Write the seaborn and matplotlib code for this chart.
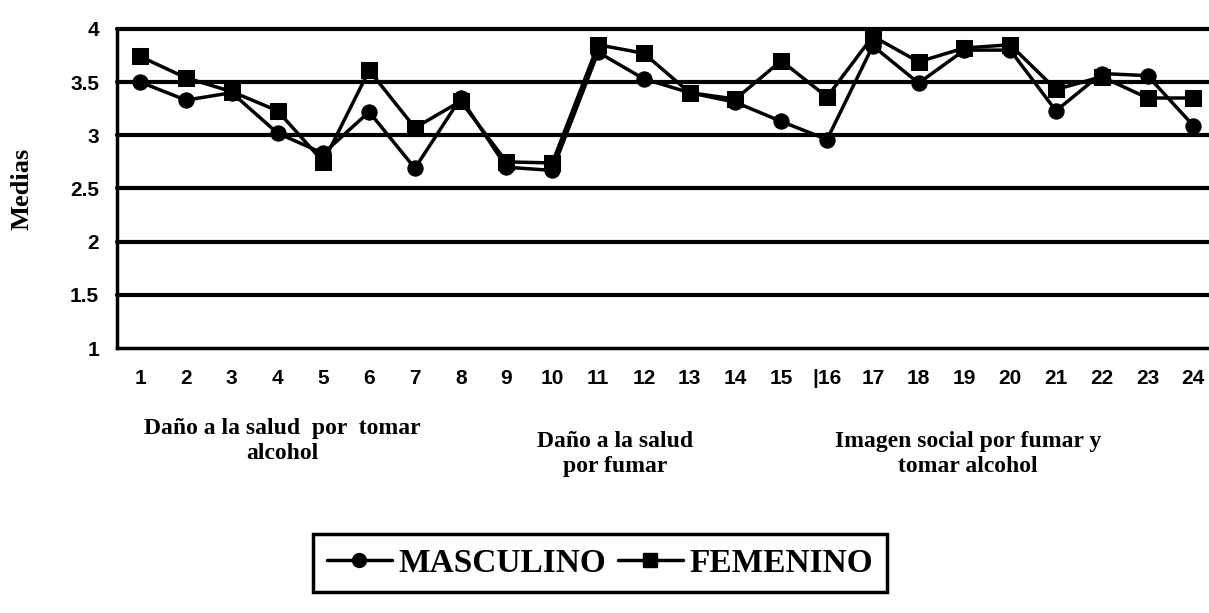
import matplotlib
matplotlib.use("Agg")
import matplotlib.pyplot as plt
import seaborn as sns
import pandas as pd
import numpy as np
from matplotlib.lines import Line2D

items = list(range(1, 25))
tick_labels = ["1", "2", "3", "4", "5", "6", "7", "8", "9", "10", "11", "12",
               "13", "14", "15", "|16", "17", "18", "19", "20", "21", "22", "23", "24"]
masculino = [3.50, 3.33, 3.40, 3.02, 2.83, 3.22, 2.69, 3.35, 2.70, 2.67, 3.78, 3.53,
             3.40, 3.31, 3.13, 2.96, 3.84, 3.49, 3.80, 3.80, 3.23, 3.58, 3.56, 3.09]
femenino = [3.74, 3.54, 3.41, 3.23, 2.75, 3.61, 3.07, 3.32, 2.75, 2.74, 3.85, 3.77,
            3.40, 3.34, 3.70, 3.36, 3.93, 3.69, 3.82, 3.85, 3.43, 3.55, 3.35, 3.35]
series_names = ["MASCULINO", "FEMENINO"]
group_labels = ["Daño a la salud  por  tomar\nalcohol",
                "Daño a la salud\npor fumar",
                "Imagen social por fumar y\ntomar alcohol"]

df = pd.DataFrame({
    "item": items * 2,
    "media": masculino + femenino,
    "sexo": [series_names[0]] * 24 + [series_names[1]] * 24,
})

sns.set_style("white")
plt.rcParams["font.family"] = ["Liberation Sans", "DejaVu Sans"]
for k in ["text.color", "axes.labelcolor", "xtick.color", "ytick.color"]:
    plt.rcParams[k] = "black"

fig = plt.figure(figsize=(12.09, 6.13), dpi=100)
ax = fig.add_axes([0.097, 0.432, 0.909, 0.521])

sns.lineplot(data=df, x="item", y="media", hue="sexo", style="sexo",
             markers={"MASCULINO": "o", "FEMENINO": "s"}, dashes=False,
             palette={"MASCULINO": "black", "FEMENINO": "black"},
             linewidth=2.5, markersize=11, markeredgecolor="black",
             ax=ax, legend=False, zorder=3)

ax.set_xlim(0.5, 24.5)
ax.set_ylim(1, 4)
ax.set_yticks([1, 1.5, 2, 2.5, 3, 3.5, 4])
ax.set_yticklabels(["1", "1.5", "2", "2.5", "3", "3.5", "4"],
                   fontsize=15, fontweight="bold")
ax.set_xticks(items)
ax.set_xticklabels(tick_labels, fontsize=15, fontweight="bold")
ax.tick_params(axis="x", which="major", length=0, pad=15)
ax.set_xticks(np.arange(1.5, 24.5, 1), minor=True)
ax.tick_params(axis="x", which="minor", length=7, width=2.5, direction="out", color="black")
ax.tick_params(axis="y", which="major", length=6, width=2.5, direction="out", color="black", pad=7)

for v in [1.5, 2, 2.5, 3, 3.5, 4]:
    ax.axhline(v, color="black", linewidth=3, zorder=1, clip_on=False)

for s in ["top", "right"]:
    ax.spines[s].set_visible(False)
for s in ["left", "bottom"]:
    ax.spines[s].set_color("black")
    ax.spines[s].set_linewidth(2.5)

serif = ["Liberation Serif", "DejaVu Serif"]
ax.set_xlabel("")
ax.set_ylabel("Medias", fontsize=19, fontweight="bold", family=serif, labelpad=26)

fig.text(282 / 1209, 1 - 441 / 613, group_labels[0], ha="center", va="center",
         fontsize=17, fontweight="bold", family=serif, linespacing=1.25)
fig.text(615 / 1209, 1 - 454 / 613, group_labels[1], ha="center", va="center",
         fontsize=17, fontweight="bold", family=serif, linespacing=1.25)
fig.text(968 / 1209, 1 - 454 / 613, group_labels[2], ha="center", va="center",
         fontsize=17, fontweight="bold", family=serif, linespacing=1.25)

handles = [Line2D([], [], color="black", marker="o", markersize=10, linewidth=2.5),
           Line2D([], [], color="black", marker="s", markersize=10, linewidth=2.5)]
leg = fig.legend(handles, series_names, loc="center", bbox_to_anchor=(600 / 1209, 1 - 563 / 613),
                 ncol=2, frameon=True, fancybox=False, handlelength=1.95, handletextpad=0.2,
                 columnspacing=0.35, borderpad=0.4, borderaxespad=0,
                 prop={"family": serif, "weight": "bold", "size": 24})
leg.get_frame().set_edgecolor("black")
leg.get_frame().set_linewidth(2.5)
leg.get_frame().set_alpha(1)

fig.savefig("out.png", dpi=100)
